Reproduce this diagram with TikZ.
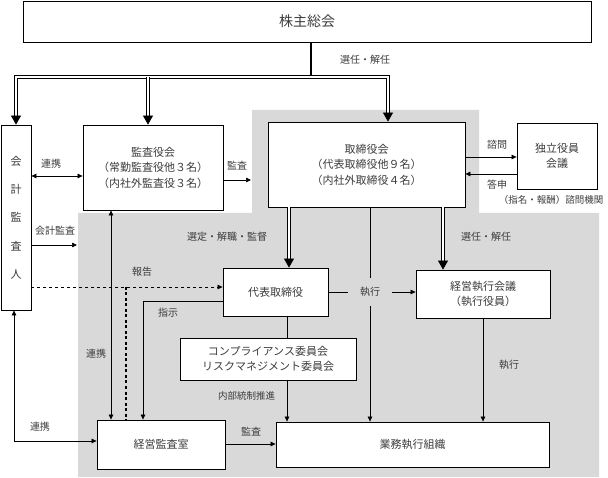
\documentclass[tikz,border=0pt]{standalone}
\usepackage{fontspec}
\setmainfont{Noto Sans CJK JP}
\usetikzlibrary{arrows.meta}
\definecolor{AreaGray}{RGB}{217,217,217}
\definecolor{TextGray}{RGB}{60,60,60}

\begin{document}
\begin{tikzpicture}[x=1pt,y=-1pt,>={Triangle[length=5pt,width=4.5pt]}]
    \tikzstyle{BoxStyle}=[draw,
                          fill         = white,
                          text         = TextGray,
                          align        = center,
                          inner sep    = 0pt,
                          line width   = 0.8pt,
                          font         = \fontsize{11}{15.5}\selectfont]
    \tikzstyle{LabelStyle}=[text       = TextGray,
                            inner sep  = 1pt,
                            font       = \fontsize{10}{12}\selectfont]
    \tikzstyle{SmallStyle}=[LabelStyle,
                            font       = \fontsize{9.5}{10}\selectfont]
    \tikzstyle{LineStyle}=[line width  = 0.7pt]
    \tikzstyle{DoubleStyle}=[double,
                             double distance = 2pt,
                             line width      = 0.8pt,
                             -{Triangle[length=9pt,width=10pt]}]
    \useasboundingbox (0,0) rectangle (608,478);
    % gray area
    \fill[AreaGray] (252,110) -- (479,110) -- (479,213) -- (599,213)
        -- (599,477) -- (78,477) -- (78,213) -- (252,213) -- cycle;
    % boxes
    \node[BoxStyle, minimum width=568, minimum height=41,
          font=\fontsize{14}{16}\selectfont] (soukai) at (307,21.5) {株主総会};
    \node[BoxStyle, minimum width=30, minimum height=185,
          font=\fontsize{11}{28.3}\selectfont] (kaikei) at (16,217.5) {会\\計\\監\\査\\人};
    \node[BoxStyle, minimum width=140, minimum height=85] (kansayaku) at (153,167.5)
        {監査役会\\（常勤監査役他３名）\\（内社外監査役３名）};
    \node[BoxStyle, minimum width=197, minimum height=85] (torishimari) at (366.5,164.5)
        {取締役会\\（代表取締役他９名）\\（内社外取締役４名）};
    \node[BoxStyle, minimum width=80, minimum height=66] (dokuritsu) at (557,156)
        {独立役員\\会議};
    \node[BoxStyle, minimum width=105, minimum height=48] (daihyo) at (275.5,292) {代表取締役};
    \node[BoxStyle, minimum width=134, minimum height=48] (keiei) at (483,294)
        {経営執行会議\\（執行役員）};
    \node[BoxStyle, minimum width=176, minimum height=42] (compliance) at (268,359)
        {コンプライアンス委員会\\リスクマネジメント委員会};
    \node[BoxStyle, minimum width=128, minimum height=49] (kansashitsu) at (161,444.5) {経営監査室};
    \node[BoxStyle, minimum width=273, minimum height=45] (gyomu) at (412.5,444.5) {業務執行組織};
    % appointment from the shareholders
    \coordinate (split) at (311,77);
    \draw[LineStyle, line width=1.3pt] (soukai.south -| split) -- (split);
    \draw[DoubleStyle] (split) -| (kaikei.north);
    \draw[DoubleStyle] (split) -| ([xshift=21.5pt]torishimari.north);
    \draw[DoubleStyle] ([xshift=-5pt]kansayaku.north |- split) -- ([xshift=-5pt]kansayaku.north);
    \node[LabelStyle] (lbsenin) at (365,60) {選任・解任};
    % auditors
    \draw[LineStyle, <->] (kaikei.east |- 0,176) -- (kansayaku.west |- 0,176);
    \node[LabelStyle] (lbrenkei) at (51,164) {連携};
    \coordinate (kansaend) at (251,180);
    \draw[LineStyle, ->] (kansayaku.east |- kansaend) -- (kansaend);
    \node[LabelStyle] (lbkansa) at (237,166) {監査};
    \coordinate (kaikeiend) at (77,245);
    \draw[LineStyle, ->] (kaikei.east |- kaikeiend) -- (kaikeiend);
    \node[LabelStyle] (lbkaikei) at (55,231) {会計監査};
    \coordinate (repjoint) at (126,287);
    \draw[LineStyle, dashed, ->] (kaikei.east |- repjoint) -- (daihyo.west |- repjoint);
    \draw[line width=1.3pt, dash pattern=on 3pt off 2.5pt] (repjoint) -- (kansashitsu.north -| repjoint);
    \node[LabelStyle] (lbhoukoku) at (142,272) {報告};
    \draw[LineStyle, <->] ([xshift=-50pt]kansashitsu.north) -- ([xshift=-50pt]kansashitsu.north |- kansayaku.south);
    \node[LabelStyle] (lbrenkei2) at (96,354) {連携};
    \draw[LineStyle, ->] (daihyo.west |- 0,301) -| ([xshift=-18pt]kansashitsu.north);
    \node[LabelStyle] (lbshiji) at (168,313) {指示};
    \draw[LineStyle, <->] ([xshift=-2pt]kaikei.south) |- (kansashitsu.west |- 0,441);
    \node[LabelStyle] (lbrenkei3) at (40,427) {連携};
    \draw[LineStyle, ->] (kansashitsu.east |- 0,444) -- (gyomu.west |- 0,444);
    \node[LabelStyle] (lbkansa2) at (251,432) {監査};
    % board of directors
    \draw[LineStyle, ->] (torishimari.east |- 0,157) -- (dokuritsu.west |- 0,157);
    \draw[LineStyle, ->] (dokuritsu.west |- 0,174) -- (torishimari.east |- 0,174);
    \node[LabelStyle] (lbshimon) at (497,145) {諮問};
    \node[LabelStyle] (lbtoushin) at (497,185) {答申};
    \node[SmallStyle] (lbkikan) at (551,200) {（指名・報酬）諮問機関};
    \draw[DoubleStyle] ([xshift=-77.5pt]torishimari.south) -- ([xshift=13.5pt]daihyo.north);
    \draw[DoubleStyle] ([xshift=76.5pt]torishimari.south) -- ([xshift=-40pt]keiei.north);
    \node[LabelStyle] (lbsentei) at (227,237) {選定・解職・監督};
    \node[LabelStyle] (lbsenin2) at (486,237) {選任・解任};
    \draw[LineStyle, ->] ([xshift=3.5pt]torishimari.south) -- ([xshift=-42.5pt]gyomu.north);
    \draw[LineStyle, ->] (daihyo.east) -- (keiei.west |- daihyo.east);
    \node[LabelStyle, fill=AreaGray, minimum width=44, minimum height=28] (lbshikko) at (370,292) {執行};
    \draw[LineStyle, ->] (keiei.south) -- (gyomu.north -| keiei.south);
    \node[LabelStyle] (lbshikko2) at (509,365) {執行};
    % internal control
    \draw[LineStyle] ([xshift=11.5pt]daihyo.south) -- ([xshift=19pt]compliance.north);
    \draw[LineStyle, ->] ([xshift=19pt]compliance.south) -- ([xshift=19pt]compliance.south |- gyomu.north);
    \node[SmallStyle] (lbnaibu) at (246.5,396) {内部統制推進};
\end{tikzpicture}
\end{document}
